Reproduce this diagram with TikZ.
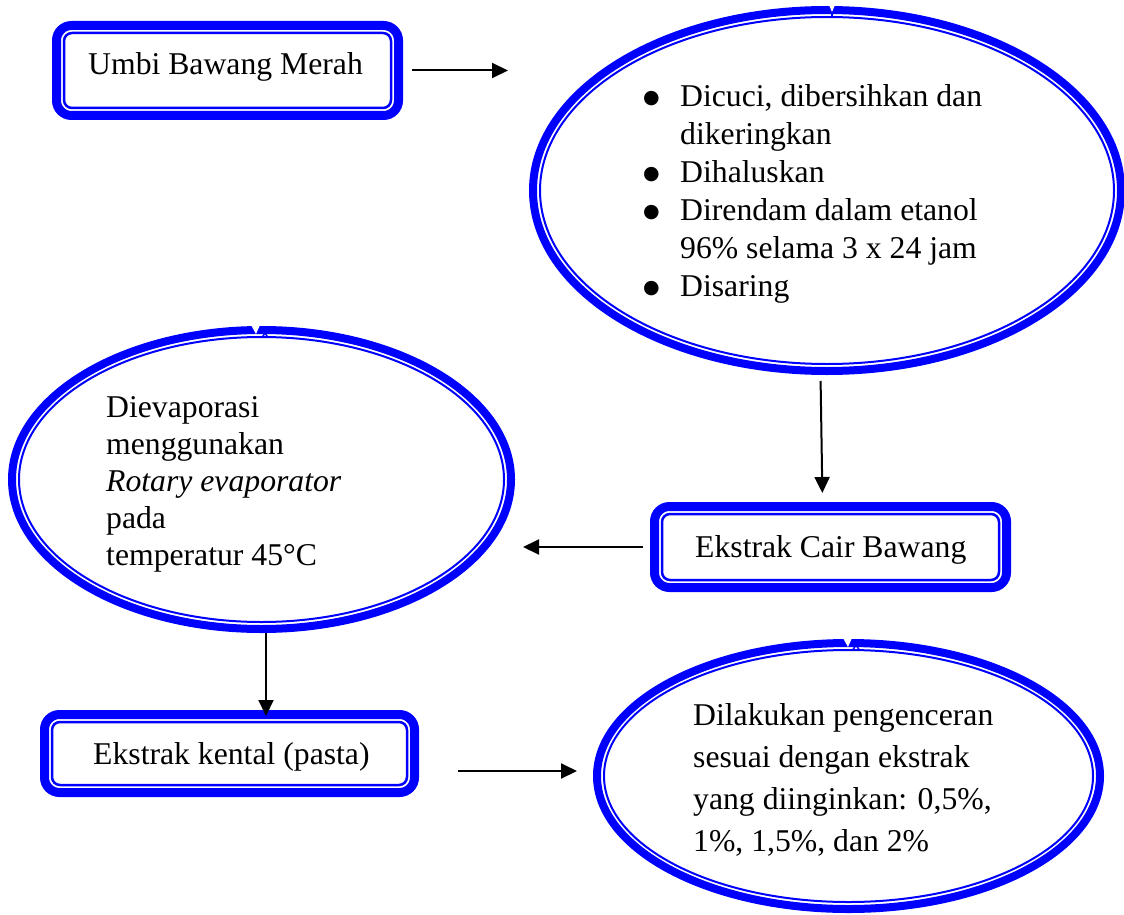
\documentclass[tikz,border=0pt]{standalone}
\usepackage{fontspec}
\setmainfont{Liberation Serif}
\newfontfamily\dotfont{DejaVu Sans}
\usetikzlibrary{arrows.meta,shapes.geometric}
\definecolor{flowblue}{RGB}{0,0,255}
\newcommand\listbullet{\makebox[37pt][l]{\raisebox{3.5pt}{\dotfont\fontsize{19}{38}\selectfont ●}}}
\begin{document}
\begin{tikzpicture}[x=1pt,y=-1pt,
  boxouter/.style={rectangle, rounded corners=15pt, draw=flowblue, line width=9pt, inner sep=0pt},
  boxinner/.style={rectangle, rounded corners=8pt, draw=flowblue, line width=2.5pt, inner sep=0pt},
  ringouter/.style={ellipse, draw=flowblue, line width=8pt, inner sep=0pt},
  ringinner/.style={ellipse, draw=flowblue, line width=2pt, inner sep=0pt},
  seamgap/.style={fill=white},
  seamtick/.style={draw=flowblue, line width=1.5pt},
  txt/.style={inner sep=0pt, anchor=base west, font=\fontsize{31.7}{38}\selectfont},
  arr/.style={-{Triangle[length=16pt,width=15pt]}, line width=2pt, black}]
\useasboundingbox (0,0) rectangle (1124,915);

% boxes with a heavy outer frame and a thin inner frame
\node[boxouter, minimum width=342pt, minimum height=90pt] (umbi) at (227.5,70.5) {};
\node[boxinner, minimum width=327pt, minimum height=75pt] (umbi-in) at (umbi) {};
\node[txt] (umbi-t) at (88,75) {Umbi Bawang Merah};

\node[boxouter, minimum width=352pt, minimum height=81pt] (cair) at (830.5,547) {};
\node[boxinner, minimum width=337pt, minimum height=66pt] (cair-in) at (cair) {};
\node[txt] (cair-t) at (695,557) {Ekstrak Cair Bawang};

\node[boxouter, minimum width=370pt, minimum height=78pt] (kental) at (229.5,753.5) {};
\node[boxinner, minimum width=355pt, minimum height=63pt] (kental-in) at (kental) {};
\node[txt] (kental-t) at (93,764) {Ekstrak kental (pasta)};

% ellipses with a heavy outer ring and a thin inner ring
\node[ringouter, minimum width=588pt, minimum height=361pt] (proses) at (827,190.5) {};
\node[ringinner, minimum width=574pt, minimum height=347pt] (proses-in) at (proses) {};
\node[txt] (proses-t) at (643,107) {\begin{tabular}[t]{@{}l@{}l@{}}
\listbullet & Dicuci, dibersihkan dan\\
 & dikeringkan\\
\listbullet & Dihaluskan\\
\listbullet & Direndam dalam etanol\\
 & 96\% selama 3 x 24 jam\\
\listbullet & Disaring
\end{tabular}};

\node[ringouter, minimum width=499pt, minimum height=299pt] (evap) at (261.5,479.5) {};
\node[ringinner, minimum width=485pt, minimum height=285pt] (evap-in) at (evap) {};
\node[txt, font=\fontsize{31.7}{37}\selectfont] (evap-t) at (106,417) {\begin{tabular}[t]{@{}l@{}}
Dievaporasi\\
menggunakan\\
\textit{Rotary evaporator}\\
pada\\
temperatur 45°C
\end{tabular}};

\node[ringouter, minimum width=503pt, minimum height=266pt] (encer) at (848.5,776) {};
\node[ringinner, minimum width=489pt, minimum height=252pt] (encer-in) at (encer) {};
\node[txt, font=\fontsize{31.7}{42.3}\selectfont] (encer-t) at (693,725) {\begin{tabular}[t]{@{}l@{}}
Dilakukan pengenceran\\
sesuai dengan ekstrak\\
yang diinginkan: 0,5\%,\\
1\%, 1,5\%, dan 2\%
\end{tabular}};

% small seams where each ring is joined at the top
\fill[seamgap] (829,5) -- (835,5) -- (832,12) -- cycle;
\draw[seamtick] (832,12) -- (832,17);
\fill[seamgap] (251,325) -- (260,325) -- (256,334) -- cycle;
\draw[seamtick] (262,337.5) -- (265,333) -- (268,337.5);
\fill[seamgap] (843,638) -- (852,638) -- (848,647) -- cycle;
\draw[seamtick] (853,649.5) -- (856,645) -- (859,649.5);

% flow arrows
\draw[arr, shorten <=9pt, shorten >=21pt] (umbi.east) -- (umbi.east -| proses.west);
\draw[arr, shorten <=6pt, shorten >=9pt] ([xshift=-6.5pt]proses.south) -- ([xshift=-8pt]cair.north);
\draw[arr, shorten <=7pt, shorten >=8pt] (cair.west) -- (cair.west -| evap.east);
\draw[arr, shorten <=0pt, shorten >=-6pt] ([xshift=4.5pt]evap.south) -- ([xshift=36.5pt]kental.north);
\draw[arr, shorten <=39pt, shorten >=16pt] ([yshift=-17.5pt]kental.east) -- ([yshift=-17.5pt]kental.east -| encer.west);
\end{tikzpicture}
\end{document}
